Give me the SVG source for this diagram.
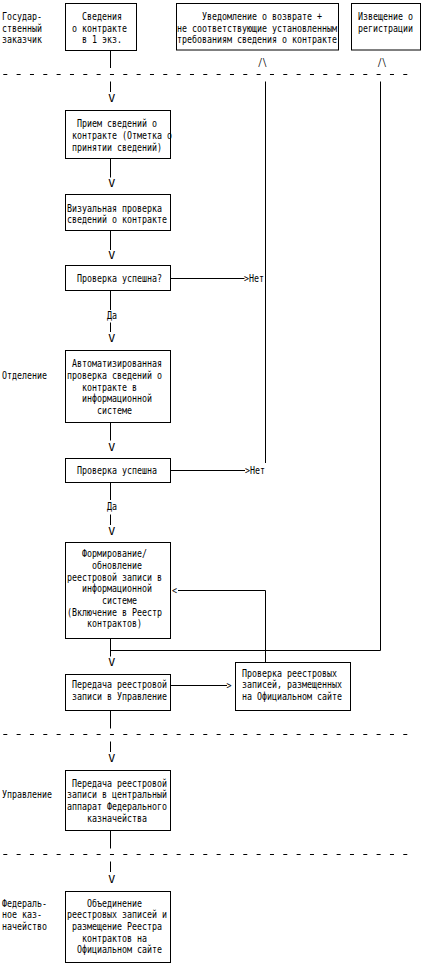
<svg xmlns="http://www.w3.org/2000/svg" width="423" height="966" viewBox="0 0 423 966">
<style>
text{font-family:"DejaVu Sans Mono","Liberation Mono",monospace;font-size:9.8px;fill:#000}
.box{fill:#fff;stroke:#000;stroke-width:1}
.ln{stroke:#000;stroke-width:1;fill:none}
.dash{stroke:#000;stroke-width:1;stroke-dasharray:4 9.333}
</style>
<rect x="0" y="0" width="423" height="966" fill="#fff"/>
<g id="lanes">
<line class="dash" x1="3.3" y1="74.5" x2="408" y2="74.5"/>
<line class="dash" x1="3.3" y1="734.5" x2="408" y2="734.5"/>
<line class="dash" x1="3.3" y1="854.5" x2="408" y2="854.5"/>
<text x="2" y="20" textLength="40" lengthAdjust="spacingAndGlyphs">Государ-</text>
<text x="2" y="31.7" textLength="40" lengthAdjust="spacingAndGlyphs">ственный</text>
<text x="2" y="43.4" textLength="40" lengthAdjust="spacingAndGlyphs">заказчик</text>
<text x="2" y="379" textLength="45" lengthAdjust="spacingAndGlyphs">Отделение</text>
<text x="2" y="798.4" textLength="50" lengthAdjust="spacingAndGlyphs">Управление</text>
<text x="2" y="906.7" textLength="45" lengthAdjust="spacingAndGlyphs">Федераль-</text>
<text x="2" y="918.3" textLength="40" lengthAdjust="spacingAndGlyphs">ное каз-</text>
<text x="2" y="930" textLength="45" lengthAdjust="spacingAndGlyphs">начейство</text>
</g>
<g id="connectors">
<line class="ln" x1="110.5" y1="50.5" x2="110.5" y2="68"/>
<line class="ln" x1="110.5" y1="81.5" x2="110.5" y2="92"/>
<text x="108.3" y="101.7" textLength="7" lengthAdjust="spacingAndGlyphs">V</text>
<line class="ln" x1="110.5" y1="158.5" x2="110.5" y2="177.5"/>
<text x="108.3" y="186.6" textLength="7" lengthAdjust="spacingAndGlyphs">V</text>
<line class="ln" x1="110.5" y1="230.5" x2="110.5" y2="250"/>
<text x="108.3" y="259.3" textLength="7" lengthAdjust="spacingAndGlyphs">V</text>
<line class="ln" x1="110.5" y1="290.5" x2="110.5" y2="310"/>
<text x="107" y="318.5" textLength="10" lengthAdjust="spacingAndGlyphs">Да</text>
<line class="ln" x1="110.5" y1="322.5" x2="110.5" y2="332"/>
<text x="108.3" y="341.7" textLength="7" lengthAdjust="spacingAndGlyphs">V</text>
<line class="ln" x1="110.5" y1="422.5" x2="110.5" y2="440.5"/>
<text x="108.3" y="450.5" textLength="7" lengthAdjust="spacingAndGlyphs">V</text>
<line class="ln" x1="110.5" y1="482.5" x2="110.5" y2="500"/>
<text x="107" y="509.5" textLength="10" lengthAdjust="spacingAndGlyphs">Да</text>
<line class="ln" x1="110.5" y1="514.5" x2="110.5" y2="525"/>
<text x="108.3" y="535" textLength="7" lengthAdjust="spacingAndGlyphs">V</text>
<line class="ln" x1="110.5" y1="638.5" x2="110.5" y2="656.5"/>
<text x="108.3" y="666.3" textLength="7" lengthAdjust="spacingAndGlyphs">V</text>
<line class="ln" x1="110.5" y1="710.5" x2="110.5" y2="728.5"/>
<line class="ln" x1="110.5" y1="741.5" x2="110.5" y2="752"/>
<text x="108.3" y="761.7" textLength="7" lengthAdjust="spacingAndGlyphs">V</text>
<line class="ln" x1="110.5" y1="830.5" x2="110.5" y2="848.5"/>
<line class="ln" x1="110.5" y1="861.5" x2="110.5" y2="872"/>
<text x="108.3" y="882.5" textLength="7" lengthAdjust="spacingAndGlyphs">V</text>
<text x="258" y="65.5" textLength="9" lengthAdjust="spacingAndGlyphs">/\</text>
<text x="377.5" y="65.5" textLength="9" lengthAdjust="spacingAndGlyphs">/\</text>
<line class="ln" x1="265.5" y1="81.5" x2="265.5" y2="463"/>
<line class="ln" x1="380.5" y1="81.5" x2="380.5" y2="650.5"/>
<line class="ln" x1="170.5" y1="278.5" x2="244.5" y2="278.5"/>
<text x="244" y="281.8" textLength="20" lengthAdjust="spacingAndGlyphs">&gt;Нет</text>
<line class="ln" x1="170.5" y1="470.5" x2="245" y2="470.5"/>
<text x="245" y="474" textLength="20" lengthAdjust="spacingAndGlyphs">&gt;Нет</text>
<line class="ln" x1="178" y1="590.5" x2="265.5" y2="590.5"/>
<line class="ln" x1="265.5" y1="590.5" x2="265.5" y2="662.5"/>
<text x="172" y="594" textLength="5" lengthAdjust="spacingAndGlyphs">&lt;</text>
<line class="ln" x1="110.5" y1="650.5" x2="380.5" y2="650.5"/>
<line class="ln" x1="170.5" y1="685.5" x2="227" y2="685.5"/>
<text x="226.5" y="689.2" textLength="5" lengthAdjust="spacingAndGlyphs">&gt;</text>
</g>
<g id="n1">
<rect class="box" x="65.5" y="3.5" width="71" height="47"/>
<text x="82" y="20" textLength="40" lengthAdjust="spacingAndGlyphs">Сведения</text>
<text x="72" y="31.7" textLength="55" lengthAdjust="spacingAndGlyphs">о контракте</text>
<text x="82" y="43.4" textLength="40" lengthAdjust="spacingAndGlyphs">в 1 экз.</text>
</g>
<g id="n2">
<rect class="box" x="176.5" y="3.5" width="162" height="46.5"/>
<text x="202" y="20" textLength="120" lengthAdjust="spacingAndGlyphs">Уведомление о возврате +</text>
<text x="177" y="31.7" textLength="160" lengthAdjust="spacingAndGlyphs">не соответствующие установленным</text>
<text x="177" y="43.4" textLength="160" lengthAdjust="spacingAndGlyphs">требованиям сведения о контракте</text>
</g>
<g id="n3">
<rect class="box" x="351.5" y="3.5" width="69" height="46.5"/>
<text x="358" y="19.6" textLength="55" lengthAdjust="spacingAndGlyphs">Извещение о</text>
<text x="358" y="32.2" textLength="55" lengthAdjust="spacingAndGlyphs">регистрации</text>
</g>
<g id="n4">
<rect class="box" x="65.5" y="110.5" width="105" height="48"/>
<text x="77" y="127.3" textLength="80" lengthAdjust="spacingAndGlyphs">Прием сведений о</text>
<text x="72" y="139" textLength="100" lengthAdjust="spacingAndGlyphs">контракте (Отметка о</text>
<text x="72" y="150.7" textLength="90" lengthAdjust="spacingAndGlyphs">принятии сведений)</text>
</g>
<g id="n5">
<rect class="box" x="65.5" y="194.5" width="105" height="36"/>
<text x="67" y="211.7" textLength="95" lengthAdjust="spacingAndGlyphs">Визуальная проверка</text>
<text x="67" y="223.3" textLength="100" lengthAdjust="spacingAndGlyphs">сведений о контракте</text>
</g>
<g id="n6">
<rect class="box" x="65.5" y="265.5" width="105" height="25"/>
<text x="77" y="281.8" textLength="85" lengthAdjust="spacingAndGlyphs">Проверка успешна?</text>
</g>
<g id="n7">
<rect class="box" x="65.5" y="350.5" width="105" height="72"/>
<text x="72" y="367.3" textLength="90" lengthAdjust="spacingAndGlyphs">Автоматизированная</text>
<text x="67" y="379" textLength="95" lengthAdjust="spacingAndGlyphs">проверка сведений о</text>
<text x="82" y="390.7" textLength="55" lengthAdjust="spacingAndGlyphs">контракте в</text>
<text x="82" y="402.3" textLength="70" lengthAdjust="spacingAndGlyphs">информационной</text>
<text x="97" y="414" textLength="35" lengthAdjust="spacingAndGlyphs">системе</text>
</g>
<g id="n8">
<rect class="box" x="65.5" y="458.5" width="105" height="24"/>
<text x="77" y="474" textLength="80" lengthAdjust="spacingAndGlyphs">Проверка успешна</text>
</g>
<g id="n9">
<rect class="box" x="65.5" y="542.5" width="105" height="96"/>
<text x="82" y="557.3" textLength="65" lengthAdjust="spacingAndGlyphs">Формирование/</text>
<text x="92" y="569" textLength="50" lengthAdjust="spacingAndGlyphs">обновление</text>
<text x="67" y="580.7" textLength="95" lengthAdjust="spacingAndGlyphs">реестровой записи в</text>
<text x="82" y="592.3" textLength="70" lengthAdjust="spacingAndGlyphs">информационной</text>
<text x="102" y="604" textLength="35" lengthAdjust="spacingAndGlyphs">системе</text>
<text x="67" y="615.7" textLength="95" lengthAdjust="spacingAndGlyphs">(Включение в Реестр</text>
<text x="87" y="627.3" textLength="55" lengthAdjust="spacingAndGlyphs">контрактов)</text>
</g>
<g id="n10">
<rect class="box" x="65.5" y="674.5" width="105" height="36"/>
<text x="72" y="688.3" textLength="95" lengthAdjust="spacingAndGlyphs">Передача реестровой</text>
<text x="72" y="700" textLength="95" lengthAdjust="spacingAndGlyphs">записи в Управление</text>
</g>
<g id="n11">
<rect class="box" x="235.5" y="662.5" width="115" height="48"/>
<text x="242" y="676.7" textLength="95" lengthAdjust="spacingAndGlyphs">Проверка реестровых</text>
<text x="242" y="688.3" textLength="100" lengthAdjust="spacingAndGlyphs">записей, размещенных</text>
<text x="242" y="700" textLength="100" lengthAdjust="spacingAndGlyphs">на Официальном сайте</text>
</g>
<g id="n12">
<rect class="box" x="65.5" y="770.5" width="105" height="60"/>
<text x="72" y="786.7" textLength="95" lengthAdjust="spacingAndGlyphs">Передача реестровой</text>
<text x="67" y="798.4" textLength="100" lengthAdjust="spacingAndGlyphs">записи в центральный</text>
<text x="67" y="810" textLength="100" lengthAdjust="spacingAndGlyphs">аппарат Федерального</text>
<text x="87" y="821.7" textLength="60" lengthAdjust="spacingAndGlyphs">казначейства</text>
</g>
<g id="n13">
<rect class="box" x="65.5" y="891.5" width="105" height="71"/>
<text x="87" y="906.7" textLength="55" lengthAdjust="spacingAndGlyphs">Объединение</text>
<text x="67" y="918.3" textLength="100" lengthAdjust="spacingAndGlyphs">реестровых записей и</text>
<text x="72" y="930" textLength="90" lengthAdjust="spacingAndGlyphs">размещение Реестра</text>
<text x="82" y="941.7" textLength="65" lengthAdjust="spacingAndGlyphs">контрактов на</text>
<text x="77" y="953.3" textLength="85" lengthAdjust="spacingAndGlyphs">Официальном сайте</text>
</g>
</svg>
